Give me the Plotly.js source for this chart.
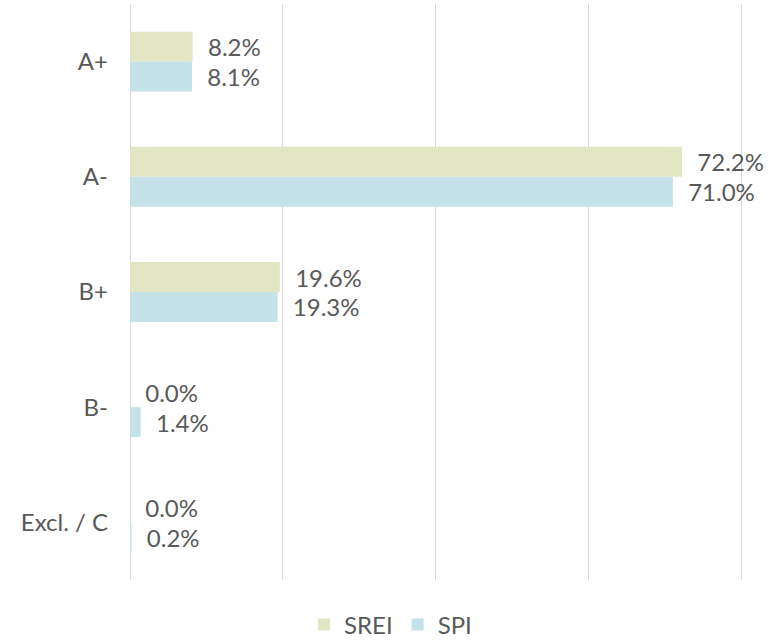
<!DOCTYPE html>
<html>
<head>
<meta charset="utf-8">
<script src="https://cdn.plot.ly/plotly-3.0.1.min.js"></script>
<style>html,body{margin:0;padding:0;background:#fff;}#chart{width:781px;height:642px;}</style>
</head>
<body>
<div id="chart"></div>
<script>
const categories = ["A+", "A-", "B+", "B-", "Excl. / C"];
const sreiValues = [8.2, 72.2, 19.6, 0.0, 0.0];
const spiValues = [8.1, 71.0, 19.3, 1.4, 0.2];
const seriesNames = ["SREI", "SPI"];
const xTicks = [0, 20, 40, 60, 80];
const xRange = [0, 80.3];

const textFont = {family: "Lato, 'Open Sans', sans-serif", size: 24, color: "#595959"};
const pad = "\u00a0\u00a0";

const traces = [
  {name: seriesNames[0], values: sreiValues, color: "#e3e6c3"},
  {name: seriesNames[1], values: spiValues, color: "#c5e2e8"}
].map(s => ({
  type: "bar",
  orientation: "h",
  name: s.name,
  y: categories,
  x: s.values,
  marker: {color: s.color},
  text: s.values.map(v => pad + v.toFixed(1) + "%"),
  textposition: "outside",
  textfont: textFont,
  cliponaxis: false,
  hoverinfo: "skip"
}));

const layout = {
  width: 781,
  height: 642,
  margin: {l: 130, r: 37, t: 4, b: 62, autoexpand: false},
  paper_bgcolor: "#ffffff",
  plot_bgcolor: "#ffffff",
  font: textFont,
  barmode: "group",
  bargap: 0.48,
  bargroupgap: 0,
  showlegend: true,
  legend: {
    orientation: "h",
    x: 0.5, xanchor: "center", xref: "container",
    y: -0.078, yanchor: "middle", yref: "paper",
    font: textFont,
    traceorder: "normal"
  },
  xaxis: {
    autorange: false,
    range: xRange,
    tickmode: "array",
    tickvals: xTicks,
    showticklabels: false,
    showgrid: true,
    gridcolor: "#d9d9d9",
    gridwidth: 1,
    zeroline: true,
    zerolinecolor: "#d9d9d9",
    zerolinewidth: 1,
    showline: false,
    ticks: "",
    fixedrange: true
  },
  yaxis: {
    autorange: "reversed",
    type: "category",
    showgrid: false,
    zeroline: false,
    showline: false,
    ticks: "",
    ticklabelstandoff: 21,
    tickfont: textFont,
    fixedrange: true
  }
};

Plotly.newPlot("chart", traces, layout, {displayModeBar: false, staticPlot: true});
</script>
</body>
</html>
